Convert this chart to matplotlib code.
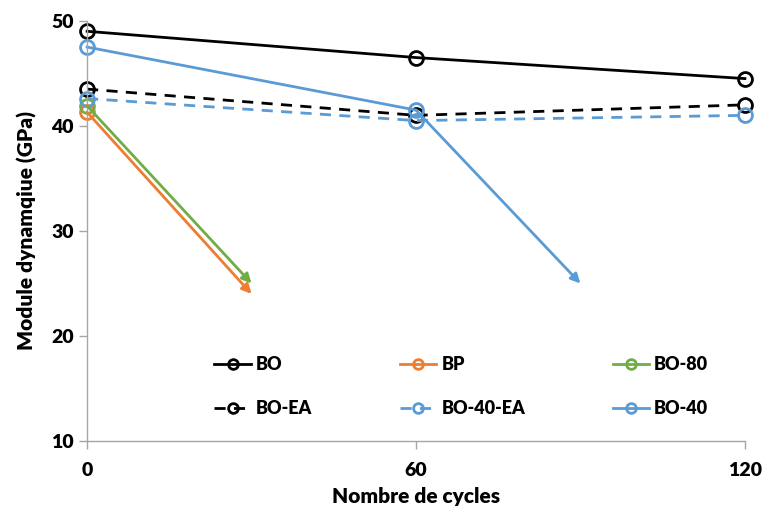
import matplotlib.pyplot as plt

plt.rcParams['font.family'] = ['Lato', 'DejaVu Sans']

cycles = [0, 60, 120]

# full series
bo = [49.0, 46.5, 44.5]
bo_ea = [43.5, 41.0, 42.0]
bo40_ea = [42.6, 40.5, 41.0]

# series ending in an arrow (specimen failed)
bo40_x = [0, 60]
bo40_y = [47.5, 41.5]
bo40_end = (90, 25.0)

bp_x = [0]
bp_y = [41.3]
bp_end = (30, 24.0)

bo80_x = [0]
bo80_y = [41.9]
bo80_end = (30, 25.0)

black = 'black'
orange = '#ED7D31'
green = '#70AD47'
blue = '#5B9BD5'

fig = plt.figure(figsize=(7.64, 5.07), dpi=100)
ax = fig.add_axes([0.114, 0.130, 0.861, 0.829])

mk = dict(marker='o', markersize=10, markerfacecolor='none',
          markeredgewidth=2, linewidth=2, clip_on=False)


def arrow(x0, y0, end, col):
    ax.annotate('', xy=end, xytext=(x0, y0),
                arrowprops=dict(arrowstyle='-|>', color=col, lw=2,
                                mutation_scale=14, shrinkA=0, shrinkB=0))


arrow(bp_x[-1], bp_y[-1], bp_end, orange)
arrow(bo80_x[-1], bo80_y[-1], bo80_end, green)
arrow(bo40_x[-1], bo40_y[-1], bo40_end, blue)

l_bo, = ax.plot(cycles, bo, color=black, label='BO', **mk)
l_bp, = ax.plot(bp_x, bp_y, color=orange, label='BP', **mk)
l_bo80, = ax.plot(bo80_x, bo80_y, color=green, label='BO-80', **mk)
l_boea, = ax.plot(cycles, bo_ea, color=black, linestyle=(0, (4, 3)),
                  label='BO-EA', **mk)
l_bo40ea, = ax.plot(cycles, bo40_ea, color=blue, linestyle=(0, (4, 3)),
                    label='BO-40-EA', **mk)
l_bo40, = ax.plot(bo40_x, bo40_y, color=blue, label='BO-40', **mk)

ax.set_xlim(0, 120)
ax.set_ylim(10, 50)
ax.set_xticks([0, 60, 120])
ax.set_yticks([10, 20, 30, 40, 50])

for s in ['top', 'right']:
    ax.spines[s].set_visible(False)
for s in ['left', 'bottom']:
    ax.spines[s].set_color('#a6a6a6')
    ax.spines[s].set_linewidth(1)
ax.tick_params(colors='#a6a6a6', length=6, width=1, labelcolor='black',
               labelsize=14)
for t in ax.get_xticklabels() + ax.get_yticklabels():
    t.set_fontweight('heavy')
ax.tick_params(axis='x', pad=9)

ax.set_ylabel('Module dynamqiue (GPa)', fontsize=15, fontweight='heavy',
              labelpad=10)
ax.set_xlabel('Nombre de cycles', fontsize=15, fontweight='heavy',
              labelpad=6)

handles = [l_bo, l_boea, l_bp, l_bo40ea, l_bo80, l_bo40]
leg = ax.legend(handles=handles, ncol=3, frameon=False,
                loc='center', bbox_to_anchor=(0.569, 0.13),
                prop={'weight': 'heavy', 'size': 13},
                markerscale=0.7, handlelength=2.0, handletextpad=0.3,
                columnspacing=4.85, labelspacing=1.5)

fig.savefig('out.png', dpi=100)
